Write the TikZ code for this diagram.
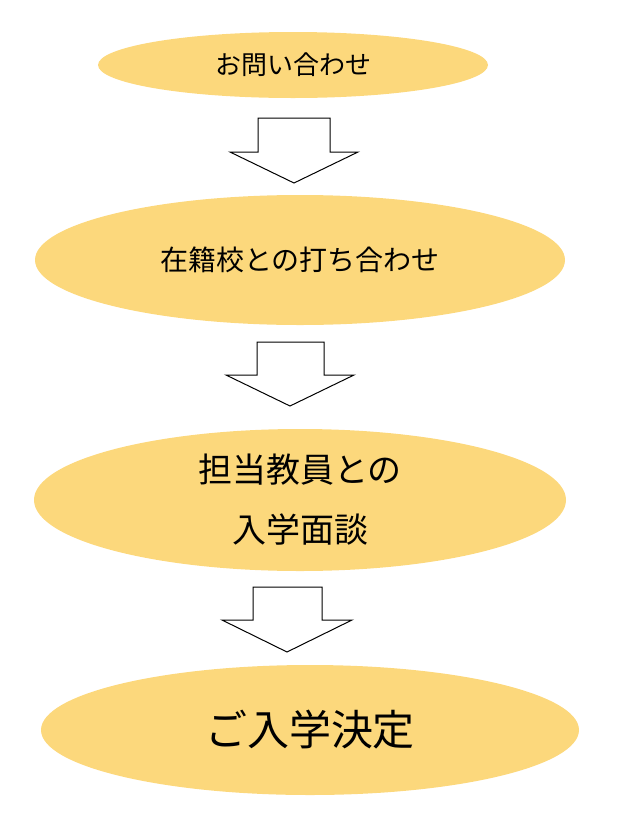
\documentclass[tikz,border=0pt]{standalone}
\usepackage{fontspec}
\newfontfamily\jpfont{Noto Sans CJK JP}
\definecolor{stepfill}{HTML}{FCD87C}
\usetikzlibrary{shapes.geometric}
\tikzset{
  stage/.style={ellipse, fill=stepfill, draw=none, inner sep=0pt, align=center, font=\jpfont},
  downarrow/.style={draw=black, fill=white, line width=0.5pt, line join=miter}
}
\begin{document}
\begin{tikzpicture}[x=0.5pt, y=-0.5pt]
  \useasboundingbox (0,0) rectangle (619,820);
  % stages
  \node[stage, minimum width=195pt, minimum height=33pt, font=\jpfont\fontsize{13}{16}\selectfont] (s1) at (293,65) {お問い合わせ};
  \node[stage, minimum width=265pt, minimum height=65pt, font=\jpfont\fontsize{14}{17}\selectfont] (s2) at (300,260) {在籍校との打ち合わせ};
  \node[stage, minimum width=266pt, minimum height=71pt, font=\jpfont\fontsize{17}{30}\selectfont] (s3) at (300,500) {担当教員との\\入学面談};
  \node[stage, minimum width=269pt, minimum height=65pt, font=\jpfont\fontsize{21}{25}\selectfont] (s4) at (310,730) {ご入学決定};
  % block arrows between stages
  \foreach \xl/\xr/\yt/\ys/\hl/\hr/\tx/\ty in
    {258/330/118/152/230/358/294/183,
     257/324/342/375/226/354/290/406,
     253/322/587/620/222/352/287/652} {
    \draw[downarrow] (\xl,\yt) -- (\xr,\yt) -- (\xr,\ys) -- (\hr,\ys)
      -- (\tx,\ty) -- (\hl,\ys) -- (\xl,\ys) -- cycle;
  }
\end{tikzpicture}
\end{document}
